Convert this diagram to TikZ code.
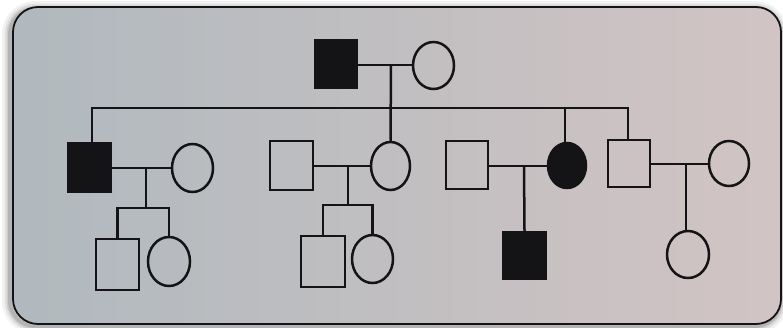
\documentclass[tikz,border=0pt]{standalone}
\usetikzlibrary{shapes.geometric}
\definecolor{bgleft}{RGB}{176,185,190}
\definecolor{bgright}{RGB}{210,196,196}
\definecolor{ink}{RGB}{20,20,22}
\tikzset{
  pline/.style={draw=ink, line width=2.5pt},
  male/.style={rectangle, draw=ink, line width=2.5pt, inner sep=0pt, minimum width=#1},
  female/.style={ellipse, draw=ink, line width=2.5pt, inner sep=0pt},
  aff/.style={fill=ink},
}
\begin{document}
\begin{tikzpicture}[x=1pt,y=-1pt]
\useasboundingbox (0,0) rectangle (783,327);
% shadow
\foreach \w/\o in {16/0.05,11/0.07,7/0.09,4/0.12}
  \draw[line width=\w pt, black, opacity=\o, rounded corners=25pt] (10,9) rectangle (780,326);
% card
\shade[left color=bgleft, right color=bgright, rounded corners=25pt] (13,7) rectangle (781,324);
\draw[ink, line width=1.8pt, rounded corners=25pt] (13,7) rectangle (781,324);

% Generation I
\node[male=42pt, minimum height=48pt, aff] (A) at (336,64) {};
\node[female, minimum width=41pt, minimum height=47pt] (B) at (433.5,65.5) {};
% Generation II
\node[male=43pt, minimum height=49pt, aff] (P1) at (89.5,167.5) {};
\node[female, minimum width=41pt, minimum height=48pt] (W1) at (192.5,168) {};
\node[male=43pt, minimum height=49pt] (H2) at (291.5,165.5) {};
\node[female, minimum width=39pt, minimum height=48pt] (P2) at (390.5,166) {};
\node[male=42pt, minimum height=48pt] (H3) at (467,165) {};
\node[female, minimum width=38pt, minimum height=45pt, aff] (P3) at (567,165.5) {};
\node[male=42pt, minimum height=47pt] (P4) at (629,163.5) {};
\node[female, minimum width=40pt, minimum height=45pt] (W4) at (729,163.5) {};
% Generation III
\node[male=43pt, minimum height=51pt] (C1a) at (117.5,264.5) {};
\node[female, minimum width=42pt, minimum height=49pt] (C1b) at (169,261.5) {};
\node[male=44pt, minimum height=51pt] (C2a) at (323,261.5) {};
\node[female, minimum width=41pt, minimum height=48pt] (C2b) at (372.5,259) {};
\node[male=43pt, minimum height=47pt, aff] (C3) at (524.5,255.5) {};
\node[female, minimum width=42pt, minimum height=47pt] (C4) at (688,254.5) {};

% helper coordinates
\coordinate (mI) at (391,65);
\coordinate (sL) at (92,108);
\coordinate (sR) at (628,108);
\coordinate (s3) at (565,108);
\coordinate (m1) at (146,168);
\coordinate (c1) at (146,208);
\coordinate (m2) at (348,166);
\coordinate (c2) at (348,205);
\coordinate (m3) at (524,166);
\coordinate (m4) at (686,164);

% Generation I connections
\draw[pline] (A.east |- mI) -- (B.west |- mI);
\draw[pline] (mI) -- (P2.north);
\draw[pline] (P1.north -| sL) -- (sL) -- (sR) -- (P4.north -| sR);
\draw[pline] (s3) -- (s3 |- P3.north);

% family 1
\draw[pline] (P1.east |- m1) -- (W1.west |- m1);
\draw[pline] (m1) -- (c1);
\draw[pline] (C1a.north) -- (C1a.north |- c1) -- (C1b.north |- c1) -- (C1b.north);
% family 2
\draw[pline] (H2.east |- m2) -- (P2.west |- m2);
\draw[pline] (m2) -- (c2);
\draw[pline] (C2a.north) -- (C2a.north |- c2) -- (C2b.north |- c2) -- (C2b.north);
% family 3
\draw[pline] (H3.east |- m3) -- (P3.west |- m3);
\draw[pline] (m3) -- (C3.north);
% family 4
\draw[pline] (P4.east |- m4) -- (W4.west |- m4);
\draw[pline] (m4) -- (m4 |- C4.north);
\end{tikzpicture}
\end{document}
